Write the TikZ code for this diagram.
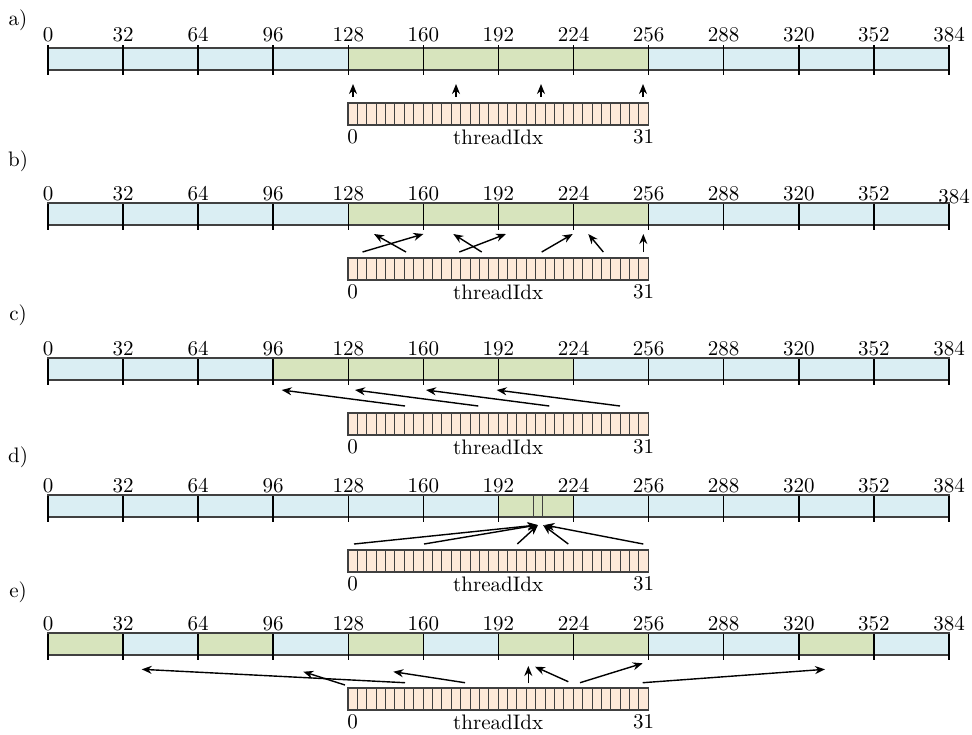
\documentclass[tikz,border=0pt]{standalone}
\usepackage{tikz}
\usepackage{xcolor}
\usetikzlibrary{arrows.meta, positioning}
\definecolor{memblue}{HTML}{DAEEF3}
\definecolor{memgreen}{HTML}{D7E4BD}
\definecolor{thrpeach}{HTML}{FDE9D9}
\tikzstyle{block} = [draw=black!75, line width=0.6pt]
\tikzstyle{cellline} = [draw=black!75, line width=0.45pt]
\tikzstyle{tick} = [line width=0.75pt]
\tikzstyle{addr} = [anchor=base, inner sep=0pt, font=\fontsize{10.5pt}{12pt}\selectfont]
\tikzstyle{idx} = [inner sep=0pt, font=\fontsize{10.5pt}{12pt}\selectfont]
\tikzstyle{panel} = [inner sep=0pt, font=\fontsize{10.5pt}{12pt}\selectfont]
\tikzstyle{arrow} = [line width=0.7pt, -{Stealth[length=5pt, width=4pt]}]

% memory bar: name, top y, green blocks, label lift, options of last label
\newcommand{\membar}[5]{%
  \fill[memblue] (48,#2) rectangle (949,#2+22);
  \foreach \g in {#3} {\fill[memgreen] ({48+75.08*\g},#2) rectangle ({48+75.08*(\g+1)},#2+22);}
  \draw[block] (48,#2) rectangle (949,#2+22);
  \foreach \i in {0,...,12} {
    \draw[tick] ({48+75.08*\i},#2-#4+4) -- ({48+75.08*\i},#2+27);
  }
  \foreach \i [evaluate=\i as \v using int(32*\i)] in {0,...,11} {
    \node[addr] (#1-\v) at ({48+75.08*\i},#2-#4) {\v};
  }
  \node[addr, #5] (#1-384) at (949,#2-#4) {384};
}
% thread block of 32 threads
\newcommand{\threads}[2]{%
  \fill[thrpeach] (348,#2+55) rectangle (648.4,#2+77);
  \foreach \k in {1,...,31} {\draw[cellline] ({348+9.385*\k},#2+55) -- ++(0,22);}
  \draw[block] (348,#2+55) rectangle (648.4,#2+77);
  \node[idx] (#1-t0) at (352.7,#2+89) {0};
  \node[idx] (#1-tid) at (498.2,#2+89) {threadIdx};
  \node[idx] (#1-t31) at (643.7,#2+89) {31};
}

\begin{document}
\begin{tikzpicture}[x=0.5pt, y=-0.5pt]
  \useasboundingbox (0,0) rectangle (972,734);

  % a) coalesced
  \node[panel] (lbl-a) at (18,20) {a)};
  \membar{a}{48}{4,5,6,7}{7}{}
  \threads{a}{48}
  \foreach \n/\x in {0/353,1/456,2/541,3/643} {
    \coordinate (a-s\n) at (\x,97);
    \coordinate (a-d\n) at (\x,84);
    \draw[arrow] (a-s\n) -- (a-d\n);
  }

  % b) permuted
  \node[panel] (lbl-b) at (18,161) {b)};
  \membar{b}{203}{4,5,6,7}{3}{xshift=2.5pt, yshift=-1.5pt}
  \threads{b}{203}
  \foreach \n/\sx/\dx in {0/362.5/423.4,1/406/374,2/459.3/506,3/481.7/453.3,4/541.7/572.7,5/603.3/588.3,6/643.3/643.3} {
    \coordinate (b-s\n) at (\sx,252);
    \coordinate (b-d\n) at (\dx,234);
    \draw[arrow] (b-s\n) -- (b-d\n);
  }

  % c) misaligned
  \node[panel] (lbl-c) at (18,315) {c)};
  \membar{c}{358}{3,4,5,6}{3}{}
  \threads{c}{358}
  \foreach \n/\sx/\dx in {0/405/281.7,1/478.3/355,2/549.3/426,3/620/496.7} {
    \coordinate (c-s\n) at (\sx,406);
    \coordinate (c-d\n) at (\dx,390);
    \draw[arrow] (c-s\n) -- (c-d\n);
  }

  % d) same address
  \node[panel] (lbl-d) at (18,457) {d)};
  \membar{d}{495}{6}{3}{}
  \draw[block] (533.5,495) rectangle (542.5,517);
  \threads{d}{495}
  \foreach \n/\sx/\dx in {0/354/537.5,1/424/537.5,2/517.3/538,3/568.3/543,4/643.3/544.5} {
    \coordinate (d-s\n) at (\sx,544);
    \coordinate (d-d\n) at (\dx,525);
    \draw[arrow] (d-s\n) -- (d-d\n);
  }

  % e) scattered
  \node[panel] (lbl-e) at (18,592) {e)};
  \membar{e}{633}{0,2,4,6,7,10}{3}{}
  \threads{e}{633}
  \foreach \n/\sx/\sy/\dx/\dy in {0/405/682.7/141.7/669.3,1/345/685/303.3/671.7,2/465/682.7/393.3/671.7,3/528.3/683.3/528.3/666,4/568.3/681.7/535/666.7,5/580/682.7/642.7/663.3,6/642.7/682.7/825/669.3} {
    \coordinate (e-s\n) at (\sx,\sy);
    \coordinate (e-d\n) at (\dx,\dy);
    \draw[arrow] (e-s\n) -- (e-d\n);
  }
\end{tikzpicture}
\end{document}
